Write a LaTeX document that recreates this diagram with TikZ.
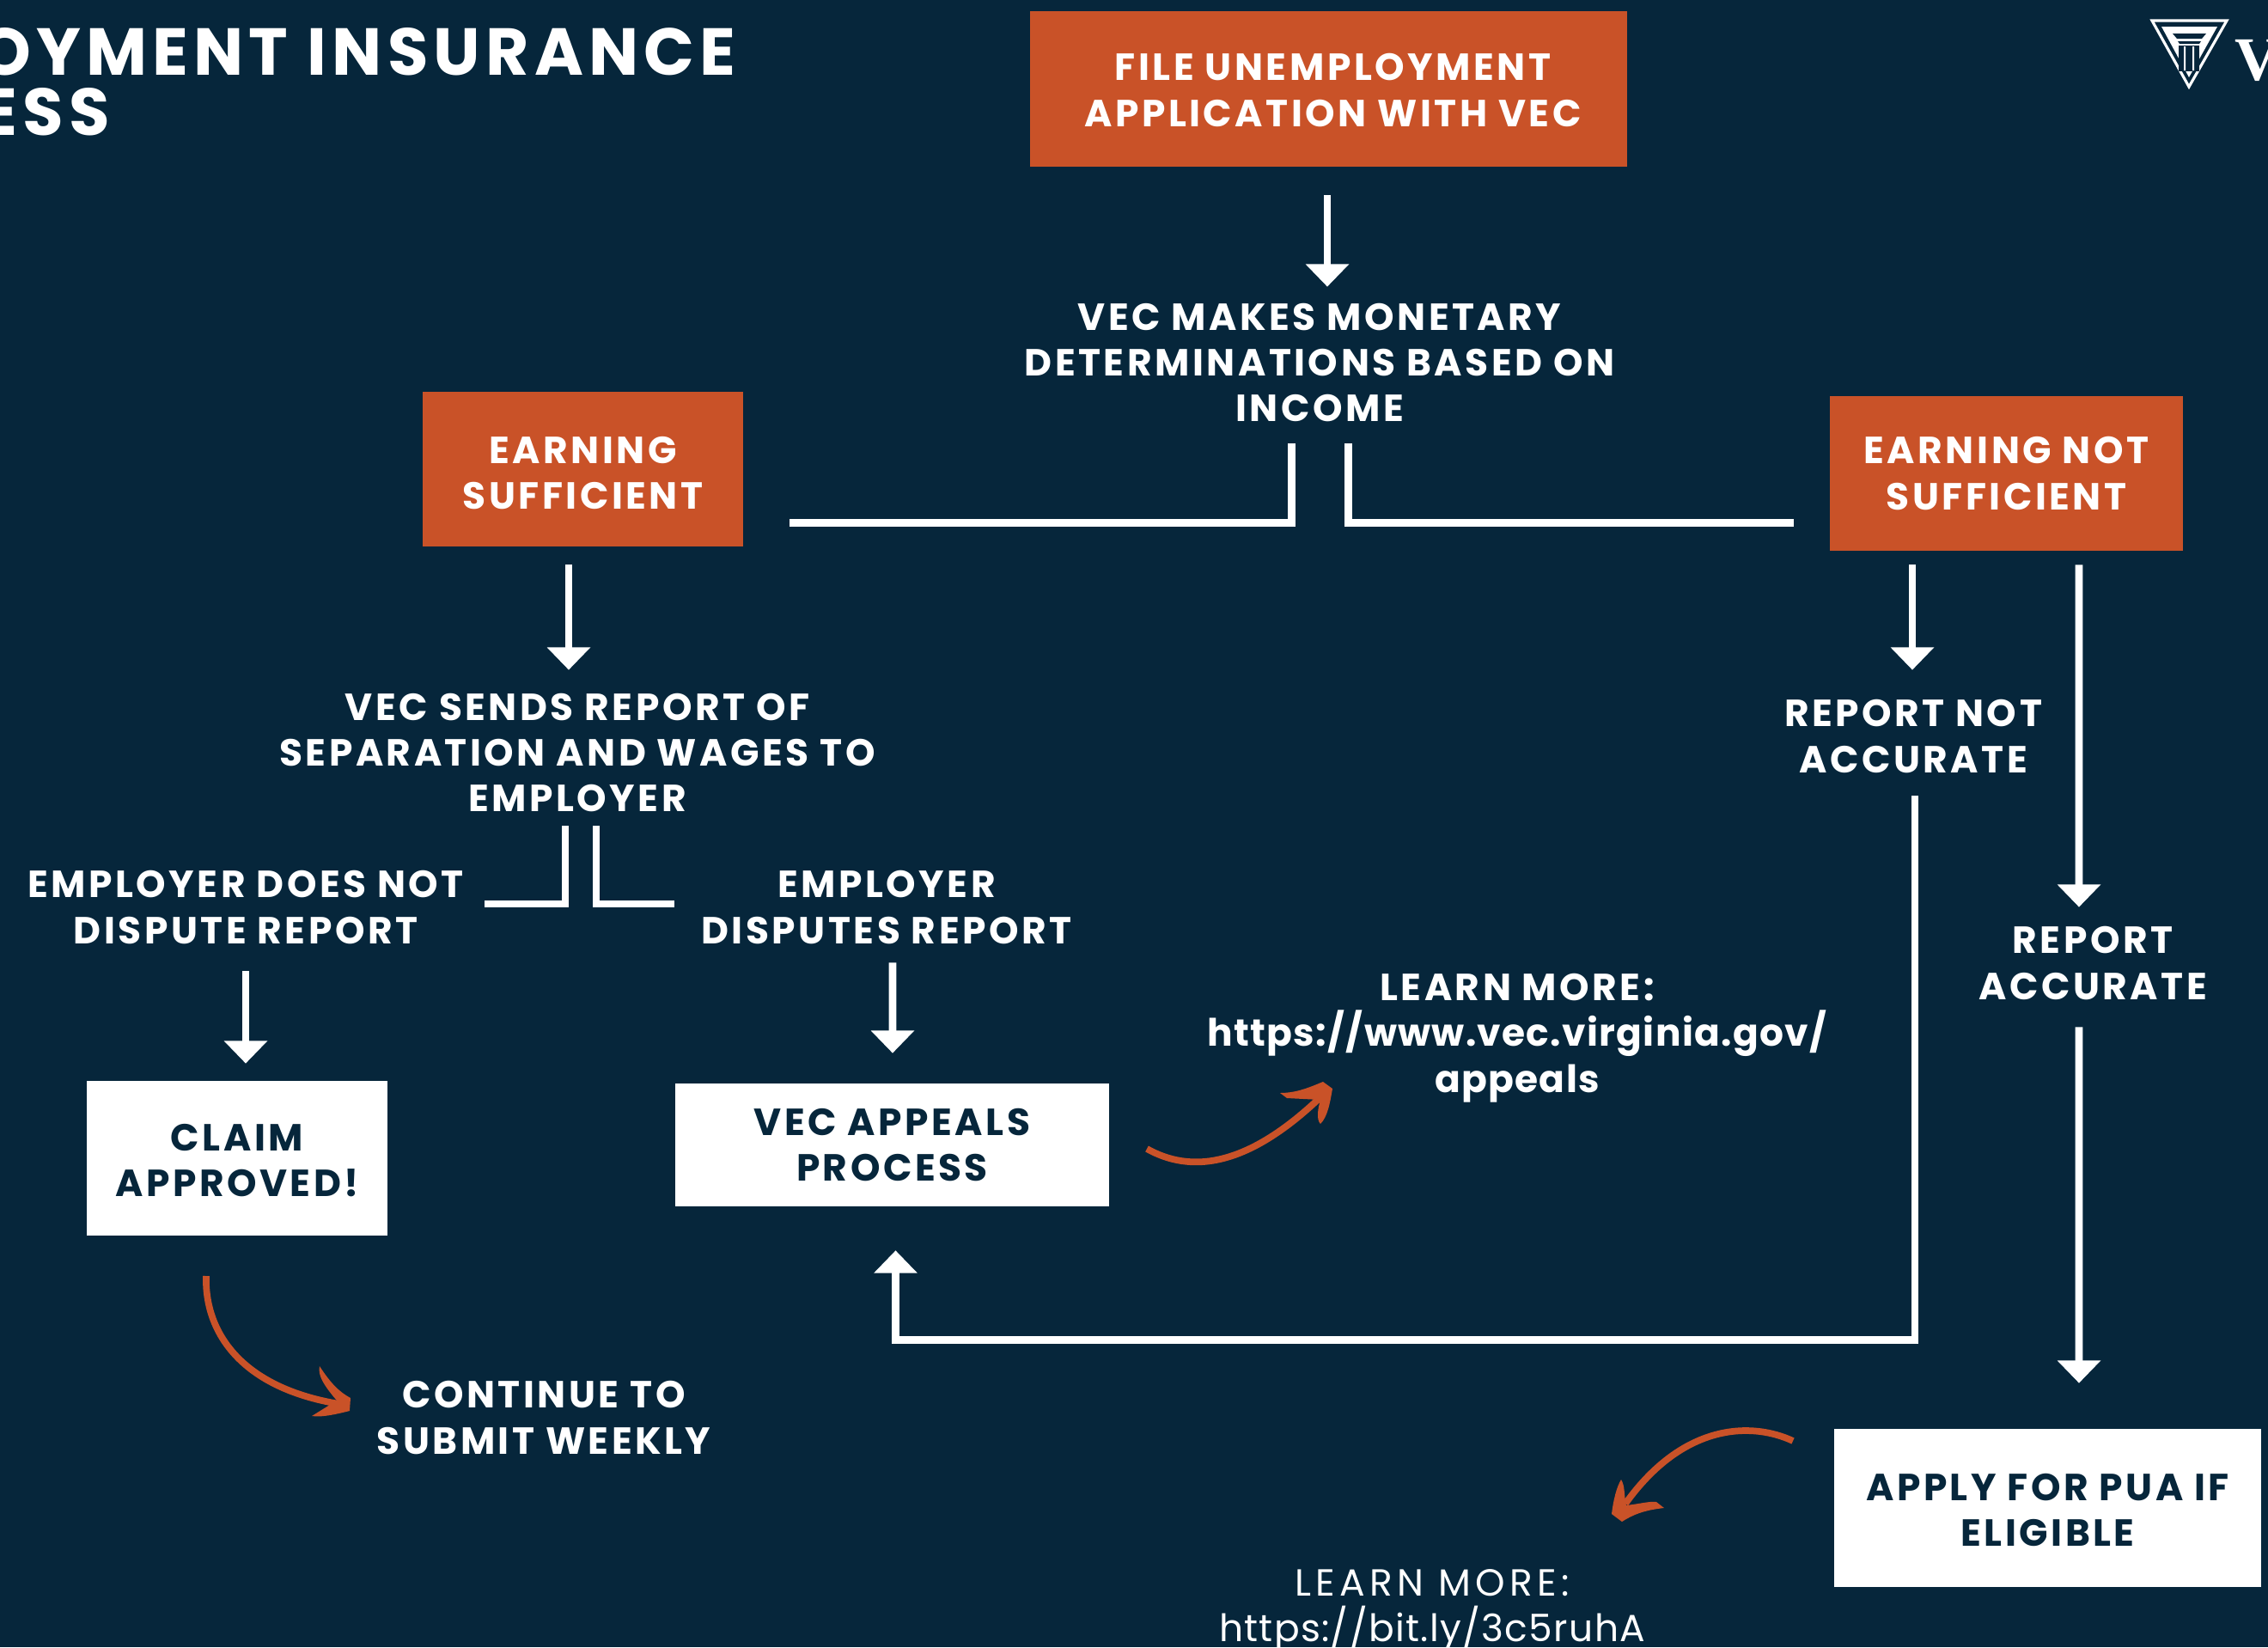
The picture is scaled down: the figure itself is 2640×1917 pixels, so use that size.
\documentclass[tikz,border=0pt]{standalone}
\usepackage{fontspec}
\setmainfont{Poppins}[LetterSpace=8]
\newfontfamily\urlfont{Poppins}[LetterSpace=3]
\newfontfamily\thinfont{Poppins}[LetterSpace=12]
\newfontfamily\logofont{Liberation Serif}
\usepackage{xcolor}
\usetikzlibrary{arrows.meta, calc}
\definecolor{navy}{HTML}{06263B}
\definecolor{rust}{HTML}{C95228}
\newcommand{\capgap}[1]{\rule{0pt}{#1}}
\tikzset{>={Triangle[length=15pt,width=28pt]},
  x=0.02cm, y=-0.02cm,
  bigfont/.style={font=\fontsize{25}{30.4}\selectfont\bfseries, align=center, inner sep=0pt},
  orangebox/.style={rectangle, fill=rust, text=white, bigfont, minimum width=#1},
  whitebox/.style={rectangle, fill=white, text=navy, bigfont, minimum width=#1},
  plain/.style={text=white, bigfont},
  twolines/.style={minimum height=2.16cm},
  threelines/.style={minimum height=3.24cm},
  wire/.style={draw=white, line width=5pt},
  flow/.style={wire, ->},
  hand/.style={draw=rust, line width=4.4pt},
  handtip/.style={fill=rust, draw=none}}

\begin{document}
\begin{tikzpicture}
\useasboundingbox (0,0) rectangle (2640,1917);
\clip (0,0) rectangle (2640,1917);
\fill[navy] (0,0) rectangle (2640,1917);

%title and logo
\path (857,87) node(title_top) [anchor=base east,text=white,inner sep=0pt,font=\fontsize{44}{44}\selectfont\bfseries] {OYMENT INSURANCE}
(128,157) node(title_low) [anchor=base east,text=white,inner sep=0pt,font=\fontsize{44}{44}\selectfont\bfseries] {ESS}
(2601,93) node(logo_word) [anchor=base west,text=white,inner sep=0pt,font=\fontsize{41}{41}\selectfont\logofont\bfseries] {V};
\draw[white,line width=1.8pt,line join=miter] (2505,24) -- (2592,24) -- (2548,101) -- cycle;
\fill[white] (2516,31) -- (2581,31) -- (2548,90) -- cycle;
\fill[navy] (2529,39) -- (2568,39) -- (2563,45) -- (2534,45) -- cycle;
\fill[navy] (2535,48) -- (2562,48) -- (2560,51) -- (2537,51) -- cycle;
\fill[navy] (2536,53) rectangle (2560,83);
\fill[white] (2542,54) rectangle (2544,82) (2552,54) rectangle (2554,82);

\path (1546.5,103.5) node(file_app) [orangebox=13.9cm,minimum height=3.62cm] {\capgap{19.5pt}\hspace*{5.7pt}FILE UNEMPLOYMENT\\\hspace*{5.7pt}APPLICATION WITH VEC}
(1536,422) node(monetary) [plain,threelines] {VEC MAKES MONETARY\\DETERMINATIONS BASED ON\\INCOME}
(678.5,546) node(earn_suff) [orangebox=7.46cm,minimum height=3.6cm] {\capgap{23pt}EARNING\\SUFFICIENT}
(2335.5,551) node(earn_not) [orangebox=8.22cm,minimum height=3.6cm] {EARNING NOT\\SUFFICIENT}
(672,876) node(vec_sends) [plain,threelines] {VEC SENDS REPORT OF\\SEPARATION AND WAGES TO\\EMPLOYER}
(286,1056) node(no_dispute) [plain,twolines] {EMPLOYER DOES NOT\\DISPUTE REPORT}
(1032,1056) node(disputes) [plain,twolines] {EMPLOYER\\DISPUTES REPORT}
(276,1348) node(claim) [whitebox=7cm,minimum height=3.6cm] {\capgap{20.5pt}CLAIM\\APPROVED!}
(1038.5,1332.5) node(appeals) [whitebox=10.1cm,minimum height=2.86cm] {VEC APPEALS\\PROCESS}
(2227,857) node(rep_not) [plain,twolines] {REPORT NOT\\ACCURATE}
(2436,1121) node(rep_ok) [plain,twolines] {REPORT\\ACCURATE}
(1766,1208) node(learn_appeals) [plain,threelines] {LEARN MORE:\\{\urlfont https://www.vec.virginia.gov/}\\{\urlfont appeals}}
(633,1650) node(continue) [plain,twolines] {CONTINUE TO\\SUBMIT WEEKLY}
(2383.5,1755) node(pua) [whitebox=9.94cm,minimum height=3.68cm] {\capgap{20.5pt}APPLY FOR PUA IF\\ELIGIBLE}
(1667,1874) node(learn_pua) [plain,twolines,font=\fontsize{25}{30.4}\selectfont] {{\thinfont LEARN MORE:}\\{\urlfont https://bit.ly/3c5ruhA}};

\draw[flow] ($(file_app.south)+(-1.5,33)$) -- ($(monetary.north)+(9,-7)$);
\draw[flow] ($(earn_suff.south)+(-16.5,21)$) -- ($(vec_sends.north)+(-10,-15)$);
\draw[flow] ($(earn_not.south)+(-109.5,16)$) -- ($(rep_not.north)+(-1,-23)$);
\draw[flow] ($(earn_not.south)+(84.5,16)$) -- ($(rep_ok.north)+(-16,-11)$);
\draw[flow] ($(rep_ok.south)+(-16,20)$) -- ($(pua.north)+(36.5,-53)$);
\draw[flow] ($(no_dispute.south)+(0,20)$) -- ($(claim.north)+(10,-20)$);
\draw[flow] ($(disputes.south)+(7,10)$) -- ($(appeals.north)+(0.5,-35)$);
\draw[flow] ($(rep_not.south)+(2,15)$) -- ++(0,633.5) -| ($(appeals.south)+(4,51)$);

\draw[wire] ($(monetary.south)+(-32.5,13)$) |- ($(earn_suff.east)+(54,62.5)$);
\draw[wire] ($(monetary.south)+(33.5,13)$) |- ($(earn_not.west)+(-42,57.5)$);
\draw[wire] ($(vec_sends.south)+(-14,4)$) |- ($(no_dispute.east)+(24,-4)$);
\draw[wire] ($(vec_sends.south)+(22,4)$) |- ($(disputes.west)+(-31,-4)$);

%hand drawn arrows
\draw[hand] (1335,1337) .. controls (1385,1365) and (1450,1360) .. (1537,1277);
\fill[handtip] (1490,1272) .. controls (1510,1272) and (1525,1265) .. (1540,1259) -- (1551,1267) .. controls (1548,1285) and (1545,1300) .. (1537,1308) .. controls (1532,1303) and (1534,1290) .. (1537,1280) -- (1498,1278) -- cycle;
\draw[hand] (2087,1677) .. controls (2040,1655) and (1960,1655) .. (1892,1750);
\fill[handtip] (1887,1722) .. controls (1882,1730) and (1878,1745) .. (1876,1762) -- (1888,1771) .. controls (1905,1760) and (1920,1757) .. (1937,1755) -- (1928,1748) .. controls (1920,1747) and (1910,1750) .. (1893,1752) .. controls (1890,1740) and (1892,1730) .. (1887,1722) -- cycle;
\draw[hand] (240,1485) .. controls (238,1550) and (280,1615) .. (395,1634);
\fill[handtip] (372,1590) .. controls (370,1600) and (375,1610) .. (392,1630) -- (363,1648) .. controls (375,1650) and (395,1645) .. (407,1642) -- (408,1627) .. controls (395,1620) and (385,1610) .. (372,1590) -- cycle;
\end{tikzpicture}
\end{document}
